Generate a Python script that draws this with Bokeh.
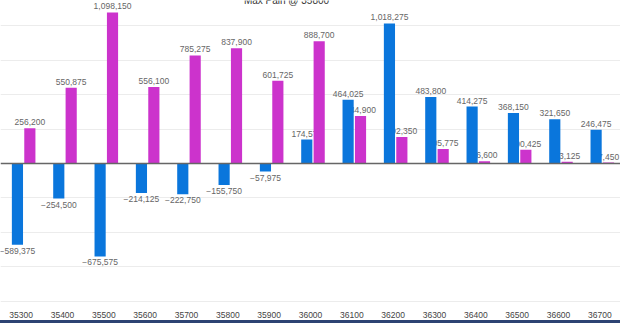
from bokeh.plotting import figure
from bokeh.models import ColumnDataSource, Range1d, FixedTicker, Label, Div
from bokeh.layouts import column
from bokeh.transform import dodge
from bokeh.core.properties import value, field
from bokeh.embed import file_html
from bokeh.resources import INLINE

strikes = ["35300", "35400", "35500", "35600", "35700", "35800", "35900", "36000",
           "36100", "36200", "36300", "36400", "36500", "36600", "36700"]
blue_vals = [-589375, -254500, -675575, -214125, -222750, -155750, -57975, 174575,
             464025, 1018275, 483800, 414275, 368150, 321650, 246475]
pink_vals = [256200, 550875, 1098150, 556100, 785275, 837900, 601725, 888700,
             344900, 192350, 105775, 16600, 100425, 13125, 7450]
title_text = "Max Pain @ 35800"

BLUE = "#0a76dc"
PINK = "#cc33cc"
FONT = "Liberation Sans"
Y_TOP = 1185000

def make_source(vals):
    return ColumnDataSource(dict(
        strike=strikes,
        val=vals,
        lab=[f"{v:,}".replace("-", "\u2212") for v in vals],
        base=["bottom" if v >= 0 else "top" for v in vals],
        yoff=[-3 if v >= 0 else 3 for v in vals],
    ))

bsrc = make_source(blue_vals)
psrc = make_source(pink_vals)

p = figure(width=620, height=320, x_range=strikes,
           y_range=Range1d(-1010000, Y_TOP),
           output_backend="svg", toolbar_location=None,
           min_border_left=0, min_border_right=0, min_border_top=0, min_border_bottom=0)
p.outline_line_color = None
p.yaxis.visible = False
p.xgrid.grid_line_color = None
p.ygrid.ticker = FixedTicker(ticks=[-1000000, -750000, -500000, -250000, 250000, 500000, 750000, 1000000])
p.ygrid.grid_line_color = "#ececec"
p.ygrid.grid_line_width = 1

BOFF, POFF, W = -0.09, 0.21, 0.27

# labels first so bars are drawn over them
for src, off in ((bsrc, BOFF), (psrc, POFF)):
    p.text(x=dodge("strike", off, range=p.x_range), y="val", text="lab", source=src,
           text_align="center", text_baseline=field("base"), y_offset="yoff",
           text_font=value(FONT), text_font_size="8.5px", text_color="#666666")

p.vbar(x=dodge("strike", BOFF, range=p.x_range), top="val", bottom=0, width=W,
       source=bsrc, fill_color=BLUE, line_color=None)
p.vbar(x=dodge("strike", POFF, range=p.x_range), top="val", bottom=0, width=W,
       source=psrc, fill_color=PINK, line_color=None)

p.hspan(y=[0], line_color="#666666", line_width=1.5)

p.add_layout(Label(x=286, y=Y_TOP, x_units="screen", y_units="data", text=title_text,
                   text_align="center", text_baseline="middle",
                   text_font=FONT, text_font_size="10px", text_color="#333333"))

ax = p.xaxis[0]
ax.axis_line_color = None
ax.major_tick_line_color = None
ax.minor_tick_line_color = None
ax.major_label_standoff = 3
ax.major_label_text_font = FONT
ax.major_label_text_font_size = "8.5px"
ax.major_label_text_color = "#444444"

bar = Div(width=620, height=3, styles={"background-color": "#2d4373", "margin": "0"})

layout = column(p, bar, spacing=0)
open("out.html", "w").write(file_html(layout, INLINE))
